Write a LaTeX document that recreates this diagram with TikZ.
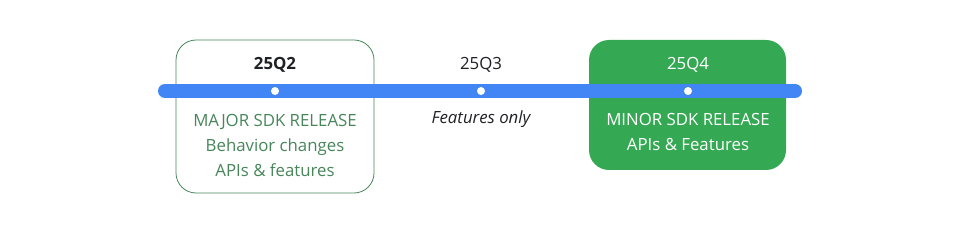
\documentclass[tikz,border=0pt]{standalone}
\usepackage{fontspec}
\setmainfont{Open Sans}
\usetikzlibrary{positioning}
\definecolor{line_blue}{RGB}{66, 133, 244}
\definecolor{major_green}{RGB}{72, 134, 90}
\definecolor{minor_green}{RGB}{52, 168, 83}
\definecolor{label_dark}{RGB}{32, 33, 36}

\begin{document}
\begin{tikzpicture}[
    x=1pt, y=-1pt,
    font=\fontsize{16.8}{25}\selectfont,
    % Styles
    release_box/.style={
        rectangle, rounded corners=20pt, inner sep=0pt
    },
    major_box/.style={
        release_box, draw=major_green, line width=0.8pt, fill=white,
        minimum width=198pt, minimum height=153pt
    },
    minor_box/.style={
        release_box, fill=minor_green,
        minimum width=197pt, minimum height=130pt
    },
    quarter_lbl/.style={
        text=label_dark, inner sep=0pt
    },
    note_lbl/.style={
        align=center, inner sep=0pt
    },
    tick_dot/.style={
        circle, fill=white, inner sep=0pt, minimum size=8pt
    }
]

% Canvas
\useasboundingbox (0,0) rectangle (958,240);

% 1. Release boxes
\node[major_box] (major) at (275,116.5) {};
\node[minor_box] (minor) at (687.5,105) {};

% 2. Timeline
\coordinate (tl_start) at (165,91);
\coordinate (tl_end) at (795,91);
\draw[line_blue, line width=14pt, line cap=round] (tl_start) -- (tl_end);

% 3. Quarter dots
\node[tick_dot] (dot2) at (275,91) {};
\node[tick_dot] (dot3) at (481,91) {};
\node[tick_dot] (dot4) at (688,91) {};

% 4. Quarter labels
\node[quarter_lbl, above=22pt of dot2, anchor=center, font=\fontsize{16.8}{25}\selectfont\bfseries] (q2) {25Q2};
\node[quarter_lbl, above=22pt of dot3, anchor=center] (q3) {25Q3};
\node[quarter_lbl, above=22pt of dot4, anchor=center, text=white] (q4) {25Q4};

% 5. Release notes
\node[note_lbl, text=major_green] (major_txt) at (275,145) {
    MAJOR SDK RELEASE\\
    Behavior changes\\
    APIs \& features
};
\node[note_lbl, text=label_dark, font=\fontsize{16.8}{25}\selectfont\itshape] (q3_txt) at (481,119) {Features only};
\node[note_lbl, text=white] (minor_txt) at (688,131.5) {
    MINOR SDK RELEASE\\
    APIs \& Features
};

\end{tikzpicture}
\end{document}
